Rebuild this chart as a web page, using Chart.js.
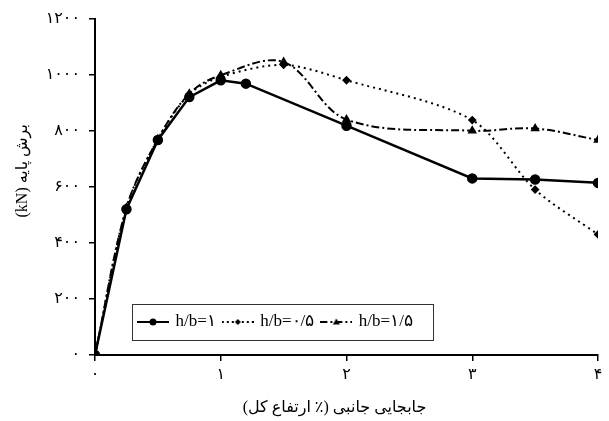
<!DOCTYPE html>
<html>
<head>
<meta charset="utf-8">
<script src="https://cdn.jsdelivr.net/npm/chart.js@4.4.0/dist/chart.umd.min.js"></script>
<style>
    html, body { margin: 0; padding: 0; background: #fff; }
    canvas { display: block; }
</style>
</head>
<body>
<canvas id="shearChart" width="609" height="421" dir="rtl"></canvas>
<script>
// ---- data ----
const legendNames = ['h/b=۱', 'h/b=۰/۵', 'h/b=۱/۵'];

const driftHb1 = [0, 0.25, 0.5, 0.75, 1, 1.2, 2, 3, 3.5, 4];
const shearHb1 = [0, 520, 767, 920, 980, 968, 818, 630, 626, 614];

const driftHb05 = [0, 0.25, 0.5, 0.75, 1, 1.5, 2, 3, 3.5, 4];
const shearHb05 = [0, 525, 770, 930, 992, 1035, 980, 838, 590, 430];

const driftHb15 = [0, 0.25, 0.5, 0.75, 1, 1.5, 2, 3, 3.5, 4];
const shearHb15 = [0, 525, 770, 932, 998, 1045, 840, 800, 808, 767];

const xTickLabels = ['۰', '۱', '۲', '۳', '۴'];
const yTickLabels = ['۰', '۲۰۰', '۴۰۰', '۶۰۰', '۸۰۰', '۱۰۰۰', '۱۲۰۰'];

const xTitle = '      جابجایی جانبی (٪ ارتفاع کل)';
const yTitle = 'برش پایه (kN)        ';

const toPoints = (xs, ys) => xs.map((x, i) => ({ x: x, y: ys[i] }));

// small line+marker samples for the legend
function legendSample(dash, marker) {
    const c = document.createElement('canvas');
    c.width = 32;
    c.height = 12;
    const g = c.getContext('2d');
    g.strokeStyle = '#000';
    g.fillStyle = '#000';
    g.lineWidth = 2;
    g.setLineDash(dash);
    g.beginPath();
    g.moveTo(0, 6);
    g.lineTo(32, 6);
    g.stroke();
    g.setLineDash([]);
    g.beginPath();
    if (marker === 'circle') {
        g.arc(16, 6, 3.5, 0, Math.PI * 2);
    } else if (marker === 'diamond') {
        g.moveTo(16, 3); g.lineTo(19, 6); g.lineTo(16, 9); g.lineTo(13, 6);
    } else {
        g.moveTo(16, 2.5); g.lineTo(19.5, 8.5); g.lineTo(12.5, 8.5);
    }
    g.closePath();
    g.fill();
    return c;
}

const samples = [
    legendSample([], 'circle'),
    legendSample([2, 3], 'diamond'),
    legendSample([7, 3, 2, 3], 'triangle')
];

// legend sits inside the plot, framed
const insideLegend = {
    id: 'insideLegend',
    beforeLayout(chart) {
        const lg = chart.legend;
        if (lg && !lg._patched) {
            const fit = lg.fit;
            lg.fit = function () { fit.call(this); this.height = 0; };
            lg._patched = true;
        }
    },
    beforeDraw(chart) {
        const lg = chart.legend;
        lg.left = 131;
        lg.right = 600;
        lg.top = 305.5;
        lg.bottom = 345;
        lg.width = lg.right - lg.left;
        lg.height = lg.bottom - lg.top;
    },
    afterDraw(chart) {
        const ctx = chart.ctx;
        ctx.save();
        ctx.strokeStyle = '#333';
        ctx.lineWidth = 1;
        ctx.strokeRect(132.5, 304.5, 301, 36);
        ctx.restore();
    }
};

const persianFont = "'Liberation Serif', 'DejaVu Sans', serif";

new Chart(document.getElementById('shearChart'), {
    type: 'line',
    data: {
        datasets: [{
            label: legendNames[0],
            data: toPoints(driftHb1, shearHb1),
            borderColor: '#000',
            backgroundColor: '#000',
            borderWidth: 2.5,
            pointStyle: 'circle',
            pointRadius: 4,
            tension: 0
        }, {
            label: legendNames[1],
            data: toPoints(driftHb05, shearHb05),
            borderColor: '#000',
            backgroundColor: '#000',
            borderWidth: 2,
            borderDash: [2, 4],
            pointStyle: 'rectRot',
            pointRadius: 3,
            tension: 0.3
        }, {
            label: legendNames[2],
            data: toPoints(driftHb15, shearHb15),
            borderColor: '#000',
            backgroundColor: '#000',
            borderWidth: 2,
            borderDash: [8, 3, 2, 3],
            pointStyle: 'triangle',
            pointRadius: 3.5,
            tension: 0.35
        }]
    },
    options: {
        responsive: false,
        animation: false,
        devicePixelRatio: 1,
        layout: { padding: { top: 15, right: 11, left: 0, bottom: 0 } },
        plugins: {
            title: { display: false },
            tooltip: { enabled: false },
            legend: {
                position: 'bottom',
                align: 'start',
                rtl: false,
                textDirection: 'ltr',
                labels: {
                    usePointStyle: true,
                    pointStyleWidth: 28,
                    padding: 8,
                    color: '#000',
                    font: { family: "'Liberation Serif', serif", size: 17 },
                    generateLabels: chart => chart.data.datasets.map((ds, i) => ({
                        text: ds.label,
                        pointStyle: samples[i],
                        fillStyle: '#000',
                        strokeStyle: '#000',
                        lineWidth: 0,
                        hidden: false,
                        datasetIndex: i
                    }))
                }
            }
        },
        scales: {
            x: {
                type: 'linear',
                min: 0,
                max: 4,
                afterFit: s => { s.height = 66; },
                border: { display: true, color: '#000', width: 2 },
                grid: { drawOnChartArea: false, drawTicks: true, tickLength: 6, color: '#000', lineWidth: 1.5 },
                ticks: {
                    stepSize: 1,
                    padding: 4,
                    color: '#000',
                    font: { family: "'DejaVu Sans'", size: 16 },
                    callback: (v, i) => xTickLabels[i]
                },
                title: {
                    display: true,
                    text: xTitle,
                    color: '#000',
                    padding: { top: 0, bottom: 4 },
                    font: { family: persianFont, size: 16 }
                }
            },
            y: {
                min: 0,
                max: 1200,
                afterFit: s => { s.width = 95; },
                border: { display: true, color: '#000', width: 2 },
                grid: { drawOnChartArea: false, drawTicks: true, tickLength: 6, color: '#000', lineWidth: 1.5 },
                ticks: {
                    stepSize: 200,
                    padding: 9,
                    color: '#000',
                    font: { family: "'DejaVu Sans'", size: 16 },
                    callback: (v, i) => yTickLabels[i]
                },
                title: {
                    display: true,
                    text: yTitle,
                    color: '#000',
                    padding: { top: 13, bottom: 0 },
                    font: { family: persianFont, size: 16 }
                }
            }
        }
    },
    plugins: [insideLegend]
});
</script>
</body>
</html>
